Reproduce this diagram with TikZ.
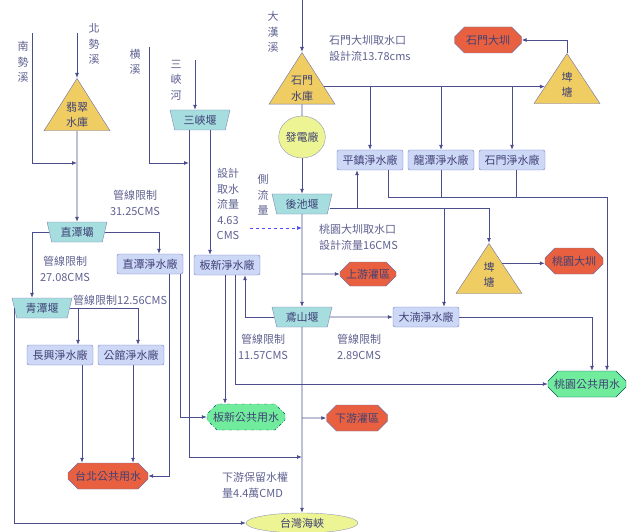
\documentclass[tikz,border=0pt]{standalone}
\usepackage{fontspec}
\setmainfont{Noto Sans CJK TC}
\usetikzlibrary{arrows.meta,shapes.geometric,shapes.misc,calc}
\definecolor{flowline}{HTML}{4B4E8C}
\definecolor{flowtext}{HTML}{5E6190}
\definecolor{nodeink}{HTML}{3F4175}
\definecolor{damyellow}{HTML}{EFCD62}
\definecolor{weircyan}{HTML}{A6DEE0}
\definecolor{plantblue}{HTML}{CDD7F6}
\definecolor{plantedge}{HTML}{6F7FC4}
\definecolor{usered}{HTML}{E8603F}
\definecolor{usegreen}{HTML}{70EC9C}
\definecolor{powerlime}{HTML}{EDF493}
\newcommand{\diagfont}{\fontsize{11}{16}\selectfont}
\newcommand{\stackfont}{\fontsize{11}{15.5}\selectfont}
\tikzset{
  dam/.style={isosceles triangle, shape border rotate=90, isosceles triangle stretches, minimum width=66pt, minimum height=50pt, draw=flowline!80, fill=damyellow, inner sep=0pt, align=center, font=\stackfont, text=nodeink},
  weir/.style={trapezium, shape border rotate=180, trapezium left angle=65, trapezium right angle=65, trapezium stretches body, minimum width=60pt, minimum height=20pt, inner sep=0pt, draw=flowline!70, fill=weircyan, font=\diagfont, text=nodeink},
  plant/.style={rounded corners=2pt, draw=plantedge, fill=plantblue, minimum width=66pt, minimum height=20pt, inner sep=1pt, font=\diagfont, text=nodeink},
  usebox/.style={chamfered rectangle, chamfered rectangle xsep=5pt, chamfered rectangle ysep=5pt, minimum height=26pt, inner sep=1pt, font=\diagfont, text=nodeink},
  irrig/.style={usebox, fill=usered, draw=flowline!80},
  pubwater/.style={usebox, fill=usegreen, draw=teal!70!black},
  lake/.style={ellipse, draw=flowline!60, fill=powerlime, inner sep=0pt, font=\diagfont, text=nodeink},
  note/.style={text=flowtext, font=\diagfont, align=center, inner sep=0pt},
  vnote/.style={note, font=\stackfont},
  flow/.style={draw=flowline, line width=0.8pt},
  arrow/.style={flow, -{Latex[length=5pt,width=4pt]}},
  dashedarrow/.style={arrow, dashed, draw=blue!70}
}

\begin{document}
\begin{tikzpicture}[x=1pt, y=-1pt]
  \useasboundingbox (0,0) rectangle (643,532);

  % rivers
  \node[vnote] (nanshi) at (23,62) {南\\勢\\溪};
  \node[vnote] (beishi) at (94,44) {北\\勢\\溪};
  \node[vnote] (hengxi) at (135,62) {横\\溪};
  \node[vnote] (sanxiahe) at (176,80) {三\\峽\\河};
  \node[vnote] (dahan) at (273,32) {大\\漢\\溪};
  \coordinate (nanshiSrc) at (32,33);
  \coordinate (beishiSrc) at (77,33);
  \coordinate (hengxiSrc) at (149,47);
  \coordinate (sanxiaSrc) at (195,60);
  \coordinate (dahanSrc) at (302,0);

  % reservoirs and ponds
  \node[dam, anchor=apex] (feicui) at (77,78) {翡翠\\水庫};
  \node[dam, anchor=apex] (shimen) at (302,52) {石門\\水庫};
  \node[dam, anchor=apex] (pitangN) at (567,53) {埤\\塘};
  \node[dam, anchor=apex] (pitangS) at (489,243) {埤\\塘};

  % weirs
  \node[weir] (sanxia) at (200,120) {三峽堰};
  \node[weir] (zhitan) at (77,232) {直潭壩};
  \node[weir] (qingtan) at (42,308) {青潭堰};
  \node[weir] (houchi) at (302,204) {後池堰};
  \node[weir] (yuanshan) at (302,317) {鳶山堰};

  % treatment plants
  \node[plant] (pingzhen) at (370,160) {平鎮淨水廠};
  \node[plant] (longtan) at (441,160) {龍潭淨水廠};
  \node[plant] (shimenWTP) at (512,160) {石門淨水廠};
  \node[plant] (zhitanWTP) at (150,264) {直潭淨水廠};
  \node[plant] (banxinWTP) at (227,265) {板新淨水廠};
  \node[plant] (changxing) at (60,355) {長興淨水廠};
  \node[plant] (gongguan) at (131,355) {公館淨水廠};
  \node[plant] (danan) at (426,317) {大湳淨水廠};

  % uses
  \node[irrig, minimum width=67pt] (shimenCanal) at (488,40) {石門大圳};
  \node[irrig, minimum width=58pt] (taoyuanCanal) at (574,261) {桃園大圳};
  \node[irrig, minimum width=50pt, minimum height=24pt] (upstream) at (368,274) {上游灌區};
  \node[irrig, minimum width=61pt] (downstream) at (357,418) {下游灌區};
  \node[irrig, minimum width=80pt] (taipei) at (108,476) {台北公共用水};
  \node[pubwater, dash dot, minimum width=72pt] (banxinPub) at (246,417) {板新公共用水};
  \node[pubwater, minimum width=72pt] (taoyuanPub) at (587,384) {桃園公共用水};
  \node[lake, minimum width=46pt, minimum height=42pt] (power) at (302,137) {發電廠};
  \node[lake, minimum width=112pt, minimum height=20pt] (strait) at (302,523) {台灣海峽};

  % notes
  \node[note, align=left, anchor=west] (smIntake) at (329,48) {石門大圳取水口\\設計流13.78cms};
  \node[note] (lim3125) at (135,203) {管線限制\\31.25CMS};
  \node[note] (lim2708) at (65,269) {管線限制\\27.08CMS};
  \node[note, anchor=west] (lim1256) at (73,300) {管線限制12.56CMS};
  \node[vnote] (design463) at (228,204) {設計\\取水\\流量\\4.63\\CMS};
  \node[vnote] (sideflow) at (263,195) {側\\流\\量};
  \node[note, align=left, anchor=west] (tyIntake) at (319,237) {桃園大圳取水口\\設計流量16CMS};
  \node[note] (lim1157) at (263,347) {管線限制\\11.57CMS};
  \node[note] (lim289) at (359,347) {管線限制\\2.89CMS};
  \node[note, align=left, anchor=west] (reserve) at (222,485) {下游保留水權\\量4.4萬CMD};

  % Feitsui side
  \coordinate (nanshiJoin) at (77,163);
  \draw[arrow] (beishiSrc) -- (feicui.apex);
  \draw[arrow] (nanshiSrc) |- (nanshiJoin);
  \draw[arrow] (feicui) -- (zhitan);
  \draw[arrow] (zhitan.east) -| ([xshift=9pt]zhitanWTP.north);
  \draw[arrow] (zhitan.west) -| ([xshift=-10pt]qingtan.north);
  \draw[arrow] (qingtan.east) -| ([xshift=7pt]gongguan.north);
  \draw[arrow] ([xshift=18pt]changxing.north |- qingtan.east) -- ([xshift=18pt]changxing.north);
  \draw[arrow] ([xshift=22pt]changxing.south) -- ([xshift=22pt]changxing.south |- taipei.north);
  \draw[arrow] ([xshift=2pt]gongguan.south) -- ([xshift=2pt]gongguan.south |- taipei.north);
  \draw[arrow] (qingtan.west) |- (strait.west);
  \draw[arrow] ([xshift=19pt]zhitanWTP.south) |- (taipei.east);
  \draw[arrow] ([xshift=30pt]zhitanWTP.south) |- (banxinPub.west);

  % Sanxia side
  \coordinate (hengxiJoin) at (189,163);
  \coordinate (sanxiaJoin) at (302,457);
  \draw[arrow] (hengxiSrc) |- (hengxiJoin);
  \draw[arrow] (sanxiaSrc) -- (sanxiaSrc |- sanxia.north);
  \draw[arrow] ([xshift=-11pt]sanxia.south) |- (sanxiaJoin);
  \draw[arrow] ([xshift=10pt]sanxia.south) -- ([xshift=10pt]sanxia.south |- banxinWTP.north);
  \draw[arrow] ([xshift=-2pt]banxinWTP.south) -- ([xshift=-2pt]banxinWTP.south |- banxinPub.north);
  \draw[arrow] ([xshift=8pt]banxinWTP.south) |- (taoyuanPub.west);

  % Shimen side
  \coordinate (shimenOut) at ($(shimen.apex)!0.66!(shimen.right corner)$);
  \coordinate (pitangIn) at ($(pitangN.apex)!0.66!(pitangN.left corner)$);
  \coordinate (tyCollect) at (607,197);
  \draw[arrow] (dahanSrc) -- (shimen.apex);
  \draw[flow] (shimen) -- (power);
  \draw[arrow] (power) -- (houchi);
  \draw[arrow] (shimenOut) -- (shimenOut -| pitangIn);
  \draw[arrow] (shimenOut -| pingzhen) -- (pingzhen);
  \draw[arrow] (shimenOut -| longtan) -- (longtan);
  \draw[arrow] (shimenOut -| shimenWTP) -- (shimenWTP);
  \draw[arrow] (pitangN.apex) |- (shimenCanal.east);
  \draw[arrow] ([xshift=18pt]pingzhen.south) |- (tyCollect) -- (tyCollect |- taoyuanPub.north);
  \draw[flow] (longtan.south) -- (longtan.south |- tyCollect);
  \draw[flow] ([xshift=4pt]shimenWTP.south) -- ([xshift=4pt]shimenWTP.south |- tyCollect);

  % Taoyuan canal
  \coordinate (tyRow) at ([yshift=-4pt]houchi.east);
  \coordinate (pitangOut) at ($(pitangS.apex)!0.4!(pitangS.right corner)$);
  \draw[arrow] (tyRow) -| (pitangS.apex);
  \draw[arrow] ([xshift=-13pt]pingzhen.south |- tyRow) -- ([xshift=-13pt]pingzhen.south);
  \draw[arrow] ([xshift=18pt]danan.north |- tyRow) -- ([xshift=18pt]danan.north);
  \draw[arrow] (pitangOut) -- (pitangOut -| taoyuanCanal.west);

  % main stem
  \coordinate (sideIn) at (250,228);
  \draw[dashedarrow] (sideIn) -- (sideIn -| houchi);
  \draw[arrow] (houchi) -- (yuanshan);
  \draw[arrow] (yuanshan) -- (strait);
  \draw[arrow] (upstream.west -| houchi) -- (upstream);
  \draw[arrow] (downstream.west -| houchi) -- (downstream);
  \draw[arrow] (yuanshan) -- (danan);
  \draw[arrow] (yuanshan.west) -| ([xshift=18pt]banxinWTP.south);
  \draw[arrow] (danan.east) -| ([xshift=5pt]taoyuanPub.north);
\end{tikzpicture}
\end{document}
